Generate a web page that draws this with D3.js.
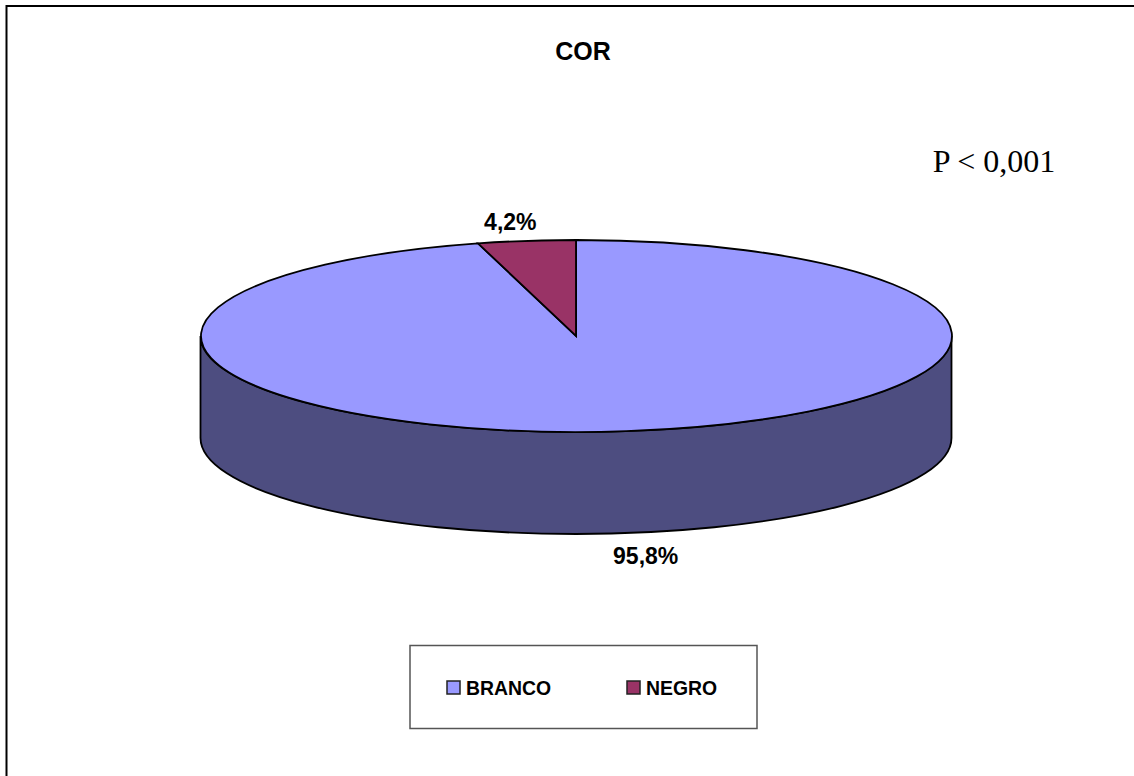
<!DOCTYPE html>
<html>
<head>
<meta charset="utf-8">
<script src="https://cdn.jsdelivr.net/npm/d3@7"></script>
<style>
  html, body { margin: 0; padding: 0; background: #fff; }
  svg { display: block; }
  text { font-family: "Liberation Sans", Arial, sans-serif; font-weight: bold; fill: #000; }
</style>
</head>
<body>
<svg id="chart" width="1134" height="776"></svg>
<script>
// chart values
var categories = ["BRANCO", "NEGRO"];
var values = [95.8, 4.2];
var colors = ["#9999ff", "#993366"];
var title = "COR";
var note = "P < 0,001";

var svg = d3.select("#chart");

// page frame, only top and left edges
svg.append("path")
    .attr("d", "M6.5,776V6H1134")
    .attr("fill", "none")
    .attr("stroke", "#000")
    .attr("stroke-width", 2);

svg.append("text")
    .attr("x", 583)
    .attr("y", 60)
    .attr("text-anchor", "middle")
    .style("font-size", "25px")
    .text(title);

svg.append("text")
    .attr("x", 994)
    .attr("y", 171.5)
    .attr("text-anchor", "middle")
    .style("font-family", "'Liberation Serif', 'Times New Roman', serif")
    .style("font-weight", "normal")
    .style("font-size", "32px")
    .text(note);

// the pie is drawn on a unit circle and squashed into an ellipse
var cx = 576, cy = 336, rx = 375.5, ry = 96, depth = 102;

var pie = d3.pie().sort(null)(values);
var arc = d3.arc().innerRadius(0).outerRadius(1);

// side wall of the disc
svg.append("path")
    .attr("d", "M" + (cx - rx) + "," + cy +
        "V" + (cy + depth) +
        "A" + rx + "," + ry + " 0 0 0 " + (cx + rx) + "," + (cy + depth) +
        "V" + cy +
        "A" + rx + "," + ry + " 0 0 1 " + (cx - rx) + "," + cy + "Z")
    .attr("fill", "#4d4d80")
    .attr("stroke", "#000")
    .attr("stroke-width", 1.8);

var face = svg.append("g")
    .attr("transform", "translate(" + cx + "," + cy + ") scale(" + rx + "," + ry + ")");

face.selectAll("path")
    .data(pie)
    .enter().append("path")
    .attr("d", arc)
    .attr("fill", function (d, i) { return colors[i]; })
    .attr("stroke", "#000")
    .attr("stroke-width", 1.8)
    .attr("vector-effect", "non-scaling-stroke");

// value labels
var pct = d3.formatLocale({decimal: ",", thousands: ".", grouping: [3], currency: ["", ""]}).format(".1f");

svg.selectAll(".value")
    .data(pie)
    .enter().append("text")
    .attr("class", "value")
    .attr("text-anchor", "middle")
    .attr("x", function (d) {
        var a = (d.startAngle + d.endAngle) / 2;
        return cx + 2 + rx * 1.37 * Math.sin(a);
    })
    .attr("y", function (d) {
        var a = (d.startAngle + d.endAngle) / 2;
        var c = Math.cos(a);
        return cy - ry * 1.224 * c + (c < 0 ? depth : 0) + 10;
    })
    .style("font-size", "23px")
    .text(function (d) { return pct(d.value) + "%"; });

// legend
var legend = svg.append("g");

legend.append("rect")
    .attr("x", 410)
    .attr("y", 645.5)
    .attr("width", 347)
    .attr("height", 83)
    .attr("fill", "#fff")
    .attr("stroke", "#555")
    .attr("stroke-width", 1.5);

var legendX = d3.scalePoint().domain(categories).range([447, 627]);

var item = legend.selectAll(".item")
    .data(categories)
    .enter().append("g")
    .attr("class", "item")
    .attr("transform", function (d) { return "translate(" + legendX(d) + ",681)"; });

item.append("rect")
    .attr("width", 13)
    .attr("height", 13)
    .attr("fill", function (d, i) { return colors[i]; })
    .attr("stroke", "#222")
    .attr("stroke-width", 1.5);

item.append("text")
    .attr("x", 19)
    .attr("y", 13.5)
    .style("font-size", "19.4px")
    .text(function (d) { return d; });
</script>
</body>
</html>
